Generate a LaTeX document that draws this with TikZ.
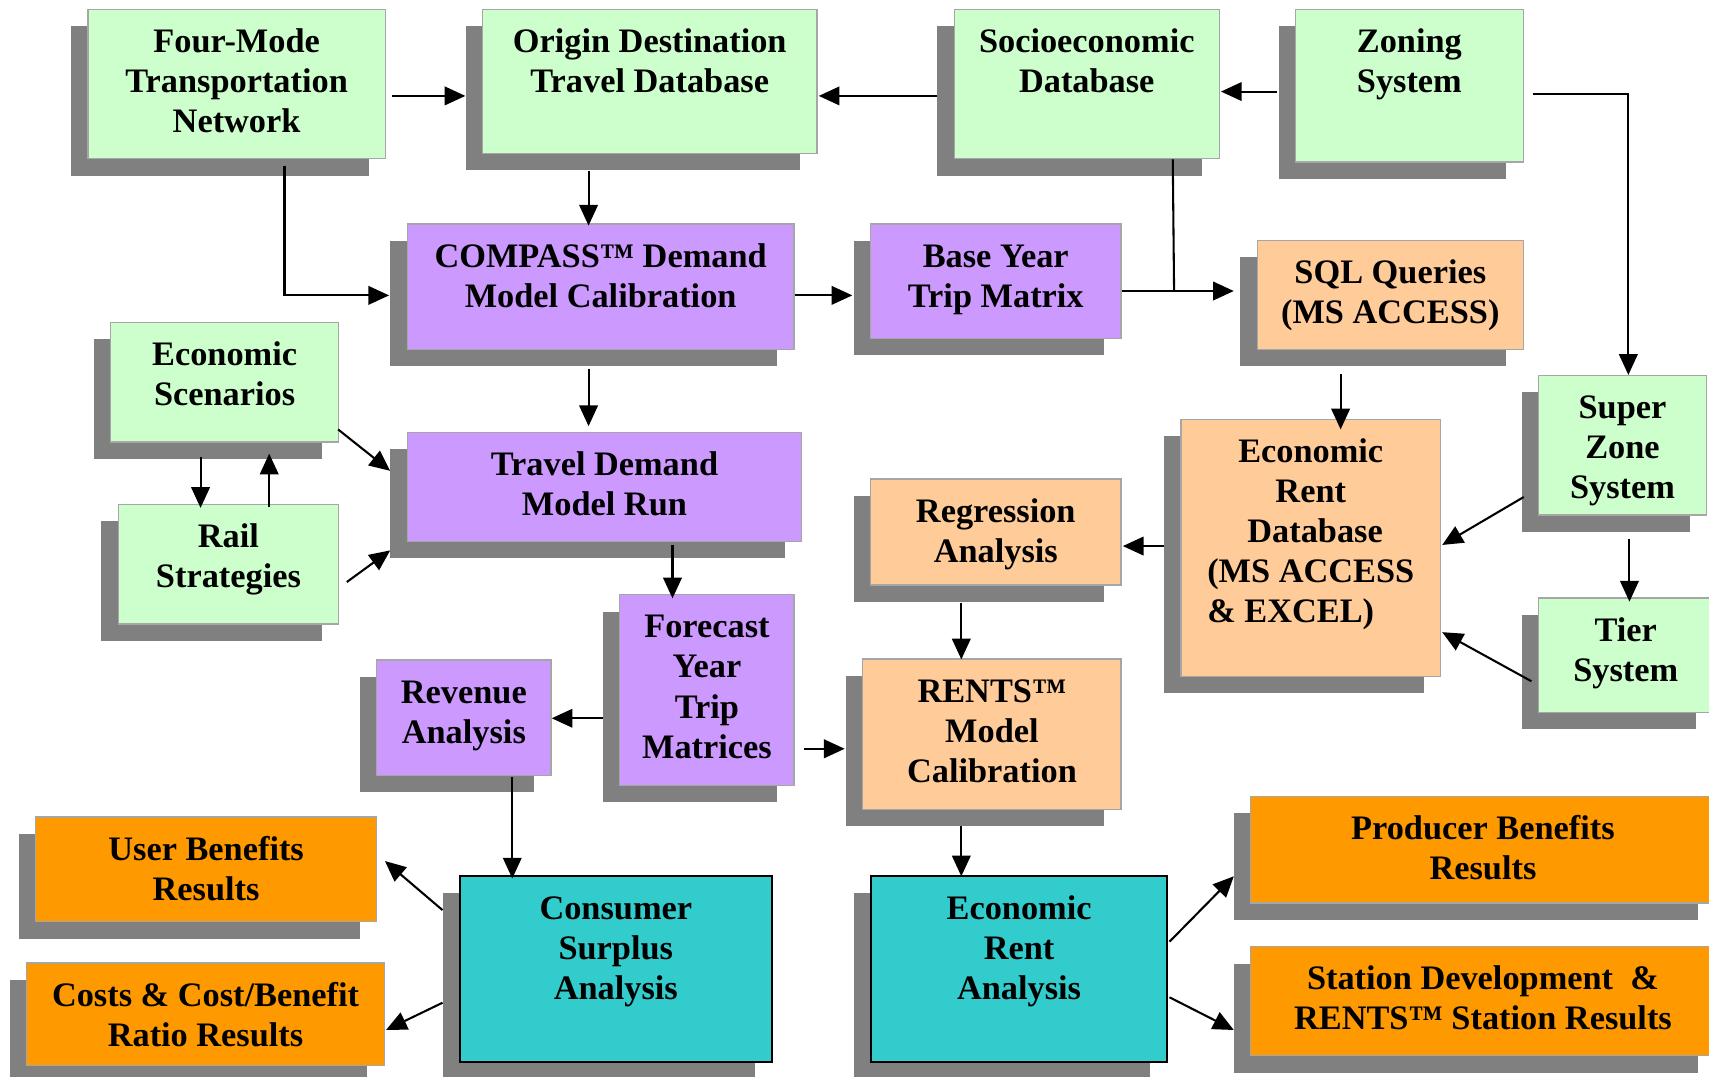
\documentclass[tikz,border=0pt]{standalone}
\usepackage{fontspec}
\setmainfont{Liberation Serif}
\usetikzlibrary{shadows,arrows.meta,calc}
\definecolor{cgreen}{HTML}{CCFFCC}
\definecolor{cpurple}{HTML}{CC99FF}
\definecolor{cpeach}{HTML}{FFCC99}
\definecolor{corange}{HTML}{FF9900}
\definecolor{cteal}{HTML}{33CCCC}
\definecolor{cshadow}{HTML}{808080}
\definecolor{cborder}{HTML}{A6A6A6}
\newcommand\bx[7]{%
  \node[box,#2,minimum width=#5pt,minimum height=#6pt] (#1) at (#3,#4) {};
  \node[txt] (#1t) at ($(#1.north)+(0,12)$) {\rule{0pt}{28pt}#7};}
\begin{document}
\begin{tikzpicture}[x=1pt,y=-1pt,
  box/.style={rectangle,anchor=north west,inner sep=0pt,draw=cborder,line width=1.2pt,
    drop shadow={shadow xshift=-15.5pt,shadow yshift=-15.5pt,fill=cshadow,opacity=1,draw=none}},
  gbox/.style={fill=cgreen},
  pbox/.style={fill=cpurple},
  obox/.style={fill=cpeach},
  rbox/.style={fill=corange},
  tbox/.style={fill=cteal,draw=black,line width=2pt},
  txt/.style={anchor=north,inner sep=0pt,align=center,font=\fontsize{31.5}{36.8}\selectfont\bfseries},
  arr/.style={draw,line width=1.9pt,-{Triangle[length=19pt,width=17pt]}},
  ln/.style={draw,line width=1.9pt}]
\useasboundingbox (0,0) rectangle (1568,988);
\clip (0,0) rectangle (1568,988);
\fill[white] (0,0) rectangle (1568,988);

\bx{fm}{gbox}{80}{8}{273}{137}{Four-Mode\\Transportation\\Network}
\bx{od}{gbox}{442}{8}{307}{132}{Origin Destination\\Travel Database}
\bx{se}{gbox}{875}{8}{243}{137}{Socioeconomic\\Database}
\bx{zs}{gbox}{1188}{8}{209}{140}{Zoning\\System}
\bx{cmp}{pbox}{373}{205}{355}{115}{COMPASS™ Demand\\Model Calibration}
\bx{by}{pbox}{798}{205}{230}{105}{Base Year\\Trip Matrix}
\bx{sql}{obox}{1153}{220}{244}{100}{SQL Queries\\(MS ACCESS)}
\bx{es}{gbox}{101}{295}{209}{110}{Economic\\Scenarios}
\bx{rs}{gbox}{108}{462}{202}{110}{Rail\\Strategies}
\bx{tdm}{pbox}{373}{396}{362}{100}{Travel Demand\\Model Run}
\bx{erdb}{obox}{1083}{384}{238}{236}{Economic\\Rent\\\hspace*{8pt}Database\\\begin{tabular}[t]{@{}l@{}}(MS ACCESS\\\& EXCEL)\end{tabular}}
\bx{sz}{gbox}{1411}{344}{154}{128}{Super\\Zone\\System}
\bx{ts}{gbox}{1411}{548}{160}{105}{Tier\\System}
\bx{reg}{obox}{798}{439}{230}{97}{Regression\\Analysis}
\bx{fc}{pbox}{568}{545}{160}{175}{Forecast\\Year\\Trip\\Matrices}
\bx{rev}{pbox}{345}{605}{160}{106}{Revenue\\Analysis}
\bx{rents}{obox}{791}{604}{237}{138}{RENTS™\\Model\\Calibration}
\bx{ub}{rbox}{32}{749}{313}{96}{User Benefits\\Results}
\bx{cb}{rbox}{24}{883}{328}{94}{Costs \& Cost/Benefit\\Ratio Results}
\bx{cs}{tbox}{421}{803}{286}{170}{Consumer\\Surplus\\Analysis}
\bx{era}{tbox}{798}{803}{272}{170}{Economic\\Rent\\Analysis}
\bx{pb}{rbox}{1147}{730}{426}{98}{Producer Benefits\\Results}
\bx{sd}{rbox}{1147}{868}{426}{100}{Station Development\ \ \&\\RENTS™ Station Results}

% connectors
\draw[arr] ($(fm.north west)+(280,80)$) -- ($(od.north west)+(-15,80)$);
\draw[arr] ($(se.north west)+(-15,80)$) -- ($(od.north east)+(1,80)$);
\draw[arr] ($(zs.north west)+(-16,76)$) -- ($(se.north east)+(1,76)$);
\draw[arr] ($(zs.north east)+(8,78)$) -| ($(sz.north west)+(83,0)$);
\draw[arr] ($(fm.north west)+(181,144)$) |- ($(cmp.north west)+(-16,66)$);
\draw[arr] ($(od.north west)+(98,149)$) -- ($(cmp.north west)+(167,2)$);
\draw[arr] ($(cmp.north east)+(0,66)$) -- ($(by.north west)+(-16,66)$);
\draw[arr] ($(by.north east)+(0,62)$) -- ($(sql.north west)+(-21,47)$);
\draw[ln] ($(se.south west)+(201,0)$) -- ($(by.north east)+(48,61)$);
\draw[arr] ($(cmp.south west)+(167,17)$) -- ($(tdm.north west)+(167,-5)$);
\draw[arr] ($(sql.south west)+(77,22)$) -- ($(erdb.north west)+(147,10)$);
\draw[arr] ($(es.north east)+(-1,99)$) -- ($(tdm.north west)+(-15,36)$);
\draw[arr] ($(rs.north east)+(7,72)$) -- ($(tdm.north west)+(-15,109)$);
\draw[arr] ($(es.south west)+(83,13)$) -- ($(rs.north west)+(76,4)$);
\draw[arr] ($(rs.north west)+(139,3)$) -- ($(es.south west)+(146,10)$);
\draw[arr] ($(tdm.south west)+(244,3)$) -- ($(fc.north west)+(49,4)$);
\draw[arr] ($(fc.north west)+(-15,114)$) -- ($(rev.north east)+(0,54)$);
\draw[arr] ($(fc.north east)+(8,142)$) -- ($(rents.north west)+(-16,83)$);
\draw[arr] ($(erdb.north west)+(-15,117)$) -- ($(reg.north east)+(1,62)$);
\draw[arr] ($(sz.north west)+(-13,112)$) -- ($(erdb.north east)+(1,116)$);
\draw[arr] ($(ts.north west)+(-6,77)$) -- ($(erdb.north east)+(1,196)$);
\draw[arr] ($(sz.south west)+(84,21)$) -- ($(ts.north west)+(84,4)$);
\draw[arr] ($(reg.south west)+(84,16)$) -- ($(rents.north west)+(91,1)$);
\draw[arr] ($(rev.south west)+(125,1)$) -- ($(cs.north west)+(49,3)$);
\draw[arr] ($(cs.north west)+(-15,32)$) -- ($(ub.north east)+(7,41)$);
\draw[arr] ($(cs.north west)+(-15,117)$) -- ($(cb.north east)+(1,62)$);
\draw[arr] ($(rents.south west)+(91,15)$) -- ($(era.north west)+(84,1)$);
\draw[arr] ($(era.north east)+(1,61)$) -- ($(pb.north west)+(-15,74)$);
\draw[arr] ($(era.north east)+(1,112)$) -- ($(sd.north west)+(-15,77)$);
\end{tikzpicture}
\end{document}
